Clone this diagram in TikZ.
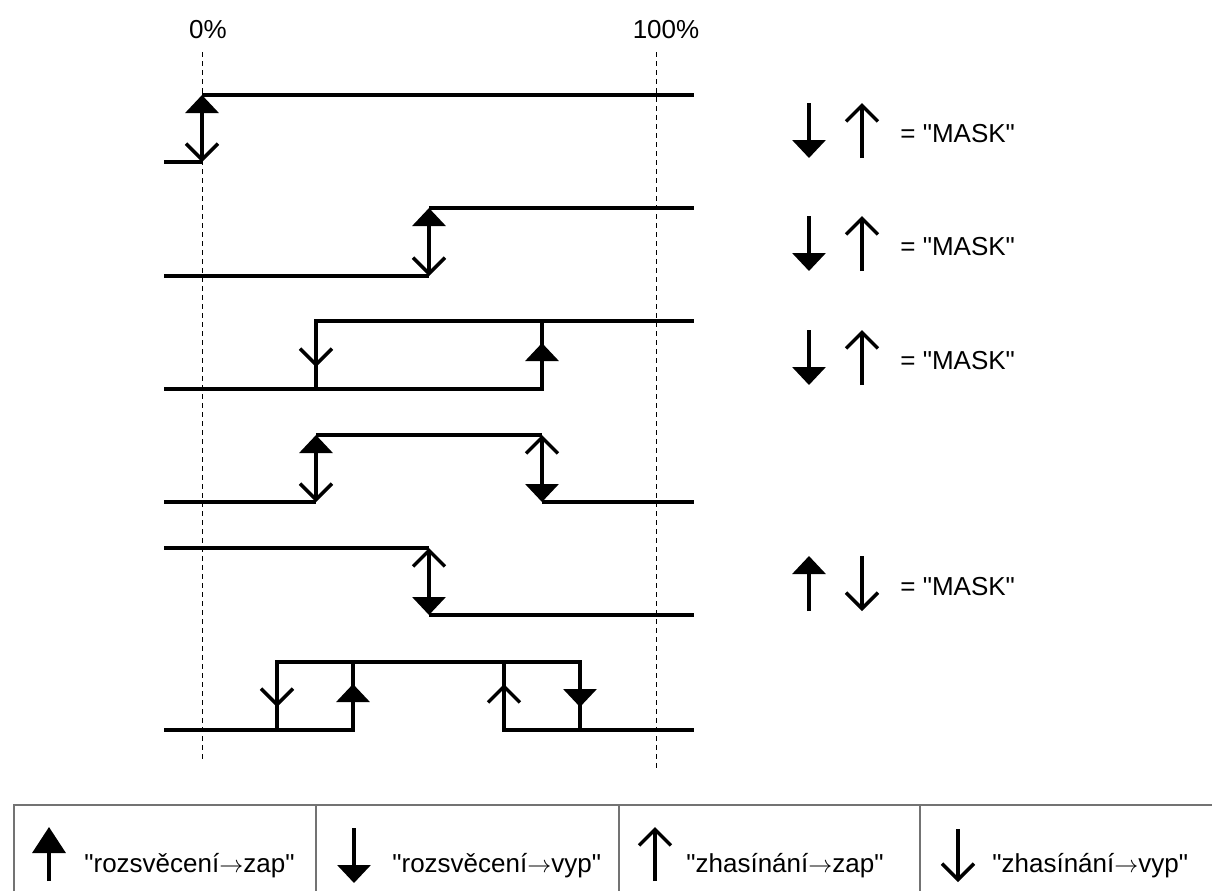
\documentclass[tikz,border=0pt]{standalone}
\usepackage{fontspec}
\setmainfont{Liberation Sans}[Ligatures=TeXOff]
\usetikzlibrary{arrows.meta}

\newcommand{\tozap}{\ensuremath{\rightarrow}}

\begin{document}
\begin{tikzpicture}[
    x=0.5pt, y=-0.5pt,
    font=\fontsize{13pt}{15pt}\selectfont,
    rz/.tip={Triangle[width=16.5pt,length=9pt]},
    rzbig/.tip={Triangle[width=16.5pt,length=13pt]},
    zh/.tip={Straight Barb[width=16pt,length=8pt]},
    wave/.style={line width=1.75pt},
    guide/.style={line width=0.5pt, dash pattern=on 2.5pt off 2pt},
    cell/.style={line width=1pt, draw=black!55},
    caption/.style={anchor=base west, inner sep=0pt}
]
    \useasboundingbox (0,0) rectangle (1212,891);

    % scale
    \node[anchor=base, inner sep=0pt] (pct0) at (208,38) {0\%};
    \node[anchor=base, inner sep=0pt] (pct100) at (666,38) {100\%};
    \draw[guide] (202,52) -- (202,760);
    \draw[guide] (656,52) -- (656,768);

    % row 1
    \draw[wave] (164,162) -- (202,162);
    \draw[wave] (202,95) -- (694,95);
    \draw[wave, rz-zh] (202,95) -- (202,162);

    % row 2
    \draw[wave] (164,276) -- (429,276);
    \draw[wave] (429,208) -- (694,208);
    \draw[wave, rz-zh] (429,208) -- (429,276);

    % row 3
    \draw[wave] (164,389) -- (542,389) -- (542,321);
    \draw[wave] (316,389) -- (316,321) -- (694,321);
    \draw[wave, -zh] (316,321) -- (316,367);
    \draw[wave, -rz] (542,389) -- (542,343);

    % row 4
    \draw[wave] (164,502) -- (316,502);
    \draw[wave] (316,435) -- (542,435);
    \draw[wave] (542,502) -- (694,502);
    \draw[wave, rz-zh] (316,435) -- (316,502);
    \draw[wave, zh-rz] (542,435) -- (542,502);

    % row 5
    \draw[wave] (164,548) -- (429,548);
    \draw[wave] (429,615) -- (694,615);
    \draw[wave, zh-rz] (429,548) -- (429,615);

    % row 6
    \draw[wave] (164,730) -- (353,730) -- (353,662);
    \draw[wave] (277,730) -- (277,662) -- (580,662) -- (580,730) -- (694,730);
    \draw[wave] (504,662) -- (504,730) -- (580,730);
    \draw[wave, -zh] (277,662) -- (277,707);
    \draw[wave, -rz] (353,730) -- (353,684);
    \draw[wave, -zh] (504,730) -- (504,684);
    \draw[wave, -rz] (580,662) -- (580,707);

    % masks
    \draw[wave, -rz] (809,103) -- (809,158);
    \draw[wave, -zh] (862,158) -- (862,103);
    \node[caption] (mask1) at (900,142) {= "MASK"};
    \draw[wave, -rz] (809,216) -- (809,271);
    \draw[wave, -zh] (862,271) -- (862,216);
    \node[caption] (mask2) at (900,255) {= "MASK"};
    \draw[wave, -rz] (809,330) -- (809,385);
    \draw[wave, -zh] (862,385) -- (862,330);
    \node[caption] (mask3) at (900,369) {= "MASK"};
    \draw[wave, -rz] (809,611) -- (809,556);
    \draw[wave, -zh] (862,556) -- (862,611);
    \node[caption] (mask5) at (900,595) {= "MASK"};

    % legend table
    \draw[cell] (14,891) -- (14,805) -- (1212,805);
    \draw[cell] (316,805) -- (316,891);
    \draw[cell] (619,805) -- (619,891);
    \draw[cell] (920,805) -- (920,891);
    \draw[wave, -rzbig] (49,881) -- (49,827);
    \node[caption] (keyonup) at (84,872) {"rozsvěcení\tozap zap"};
    \draw[wave, -rz] (354,828) -- (354,883);
    \node[caption] (keyondown) at (392,872) {"rozsvěcení\tozap vyp"};
    \draw[wave, -zh] (655,881) -- (655,827);
    \node[caption] (keyoffup) at (686,872) {"zhasínání\tozap zap"};
    \draw[wave, -zh] (958,829) -- (958,882);
    \node[caption] (keyoffdown) at (992,872) {"zhasínání\tozap vyp"};
\end{tikzpicture}
\end{document}
